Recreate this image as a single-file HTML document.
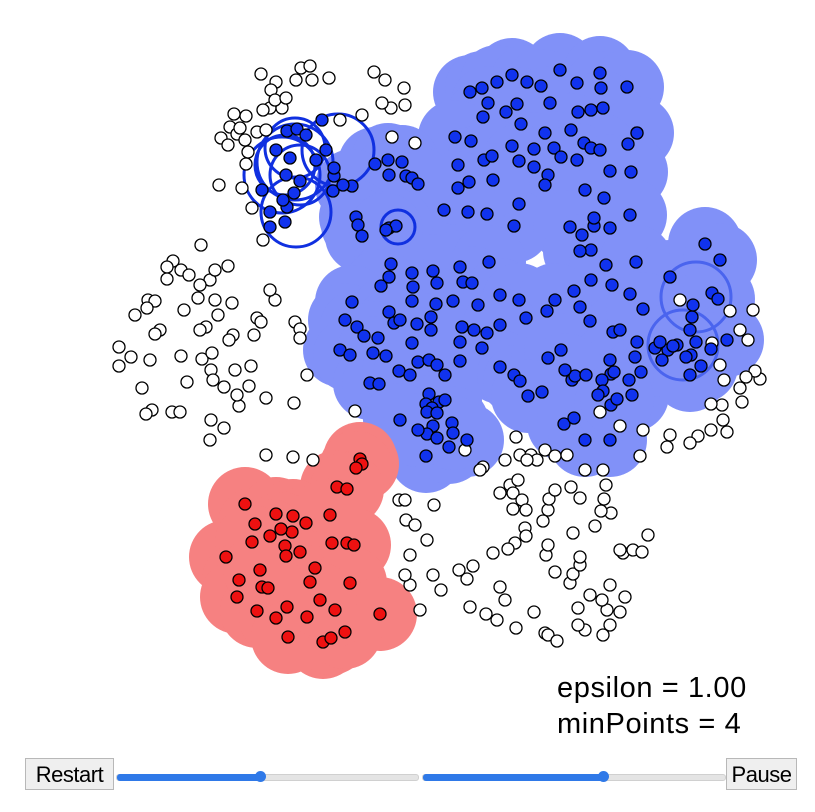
<!DOCTYPE html>
<html><head><meta charset="utf-8">
<style>
html,body{margin:0;padding:0;background:#fff;width:815px;height:812px;overflow:hidden;font-family:"Liberation Sans",sans-serif}
#chart{position:absolute;left:0;top:0}
.btn{position:absolute;top:758px;height:32px;background:#efefef;border:1px solid #b8b8b8;font-size:22px;line-height:32px;text-align:center;box-sizing:border-box;color:#000;letter-spacing:-0.5px}
.slider{position:absolute;top:774px;height:5px;background:#e4e4e4;border-radius:3px;border:1px solid #d0d0d0}
.fillpart{position:absolute;left:0;top:-1px;height:7px;background:#2f79e8;border-radius:3px}
.thumb{position:absolute;top:-4px;width:11px;height:11px;border-radius:50%;background:#2f79e8}
.lbl{position:absolute;left:557px;font-size:29px;color:#000;letter-spacing:0.6px;white-space:nowrap}
</style></head><body>
<svg id="chart" width="815" height="750"></svg>
<div class="lbl" style="top:672px">epsilon = 1.00</div>
<div class="lbl" style="top:708px">minPoints = 4</div>
<div class="btn" style="left:25px;width:89px">Restart</div>
<div class="slider" style="left:116px;width:301px"><div class="fillpart" style="width:144px"></div><div class="thumb" style="left:138px"></div></div>
<div class="slider" style="left:422px;width:302px"><div class="fillpart" style="width:181px"></div><div class="thumb" style="left:175px"></div></div>
<div class="btn" style="left:726px;width:71px">Pause</div>
<script>
// label: 0 noise, 1 blue cluster, 2 red cluster, 3 blue frontier (no fill)
const blueX=[470,482,512,497,527,560,541,577,600,601,627,488,517,550,578,591,603,483,506,521,545,571,512,534,554,584,561,591,471,455,628,637,458,484,492,519,534,548,600,577,610,631,585,604,594,594,610,630,545,519,514,487,468,444,469,493,458,375,388,402,406,389,412,418,352,356,358,362,389,396,386,391,389,412,413,433,437,460,463,489,472,453,436,412,381,352,345,357,364,389,394,417,431,400,431,462,478,500,519,526,547,574,580,591,612,591,582,570,580,606,636,630,590,613,620,637,635,655,668,677,690,692,693,712,670,705,720,718,691,696,727,711,701,643,555,487,412,378,340,350,373,386,370,379,399,418,429,437,410,445,460,482,474,460,500,500,514,520,548,561,572,575,586,610,611,602,614,629,632,603,598,565,542,528,564,574,585,610,641,660,662,673,686,690,611,617,429,426,439,445,432,427,437,433,427,437,452,467,426,449,453,400,418];
const blueY=[92,88,75,82,82,70,86,83,73,88,87,103,104,103,112,110,108,117,112,124,133,130,146,149,148,143,157,148,141,137,144,133,165,160,156,161,167,175,150,160,171,172,190,198,226,218,228,215,185,204,226,214,212,210,182,180,188,164,160,162,176,175,178,184,186,217,225,236,228,226,230,264,277,273,287,271,283,267,282,262,283,301,304,301,286,302,320,327,336,312,323,324,317,320,330,327,305,295,300,318,311,291,307,280,285,250,235,227,251,265,262,294,321,332,330,342,357,348,350,345,330,317,305,293,277,244,260,299,355,342,340,349,366,309,300,333,343,338,350,355,353,356,383,384,371,362,360,365,375,375,361,348,330,342,325,367,375,381,358,350,380,376,375,360,374,380,372,380,395,391,395,370,392,396,424,418,440,440,372,342,360,346,357,375,405,399,394,404,402,400,408,412,413,426,434,438,423,440,456,447,433,420,430];
const frontX=[334,334,286,290,287,297,306,326,333,343,294,287,270,285,283,270,300,316,276,262,322];
const frontY=[176,168,175,158,131,129,135,150,191,185,193,207,227,222,200,212,181,160,150,190,120];
const redX=[360,362,356,337,347,245,255,276,293,306,292,281,270,226,252,285,332,347,354,330,300,286,315,310,350,380,239,262,268,237,257,287,307,276,288,323,331,345,260,335,320];
const redY=[459,464,468,487,489,504,524,514,516,523,532,529,536,557,542,546,543,543,545,515,552,556,568,582,583,614,580,587,588,597,611,607,617,618,637,642,638,632,570,610,600];
const noiseX=[261,276,301,310,312,329,271,270,282,275,286,296,263,246,234,230,221,228,237,245,248,240,257,266,219,242,246,252,263,201,173,167,181,189,167,148,155,147,135,119,131,119,142,152,146,172,180,187,181,202,212,211,213,224,239,237,249,211,210,224,266,293,266,251,235,198,184,210,228,215,200,206,233,229,257,261,254,275,295,300,307,300,270,232,215,218,294,355,313,160,155,150,200,374,385,404,391,362,392,382,340,415,405,637,760,755,740,746,724,722,711,698,723,727,711,742,753,748,712,720,730,740,680,670,667,640,643,620,600,690,516,520,531,537,545,555,567,527,483,505,500,510,513,518,513,522,526,548,549,555,515,508,493,473,467,500,505,470,486,497,516,534,545,548,557,585,578,603,607,602,610,590,578,570,573,580,555,546,548,525,526,543,573,595,611,601,604,606,603,585,571,580,580,623,633,642,648,620,625,620,610,399,406,415,427,410,410,405,433,441,459,420,405,434,465,480];
const noiseY=[74,82,68,66,80,78,90,108,108,100,98,80,110,116,114,127,138,145,134,140,152,128,132,130,185,188,164,208,240,245,261,267,270,275,279,300,301,308,315,347,357,366,388,410,414,412,412,382,356,359,353,370,380,387,406,395,386,420,440,428,455,457,398,366,370,298,310,280,266,270,285,327,335,340,318,322,335,300,322,329,375,338,290,303,300,315,403,411,460,330,334,360,330,72,80,88,108,115,137,103,120,143,105,133,379,371,388,377,380,405,404,436,420,432,430,402,310,340,343,365,311,330,300,435,447,456,430,426,412,443,437,455,455,460,450,456,455,460,467,460,493,485,493,480,509,500,510,510,499,490,543,549,553,566,579,587,600,607,614,620,628,612,633,635,641,630,625,635,610,600,585,595,608,583,574,565,572,555,545,528,536,521,533,526,513,511,499,485,470,470,487,498,557,553,550,552,535,550,597,612,625,500,520,525,540,555,585,575,575,590,570,610,500,505,450,470];
const ringX=[282,295,300,295,338,296,398,285];
const ringY=[175,162,175,148,150,212,227,165];
const ringR=[38,38,30,30,36,35,17,30];
const lightRingX=[696,683];
const lightRingY=[297,345];
const EPS=37, PR=6;
const NS='http://www.w3.org/2000/svg';
const svg=document.getElementById('chart');
function mk(tag,attrs,parent){const e=document.createElementNS(NS,tag);for(const k in attrs)e.setAttribute(k,attrs[k]);(parent||svg).appendChild(e);return e;}
const gBlue=mk('g',{fill:'#8191f8'});


blueX.forEach((x,i)=>{mk('circle',{cx:x,cy:blueY[i],r:EPS},gBlue);});
const gRed=mk('g',{fill:'#f68181'});


redX.forEach((x,i)=>{mk('circle',{cx:x,cy:redY[i],r:EPS},gRed);});
const gRing=mk('g',{fill:'none',stroke:'#1030e0','stroke-width':3});


ringX.forEach((x,i)=>{mk('circle',{cx:x,cy:ringY[i],r:ringR[i]},gRing);});
const gLR=mk('g',{fill:'none',stroke:'#4a64ee','stroke-width':3});


lightRingX.forEach((x,i)=>{mk('circle',{cx:x,cy:lightRingY[i],r:35},gLR);});
function pts(xs,ys,fill,name){const g=mk('g',{fill:fill,stroke:'#000','stroke-width':1.3});


xs.forEach((x,i)=>{mk('circle',{cx:x,cy:ys[i],r:PR},g);});}
pts(noiseX,noiseY,'#fff','noise-points');
pts(blueX,blueY,'#1133ee','blue-points');
pts(frontX,frontY,'#1133ee','frontier-points');
pts(redX,redY,'#ee1111','red-points');
</script>
</body></html>
